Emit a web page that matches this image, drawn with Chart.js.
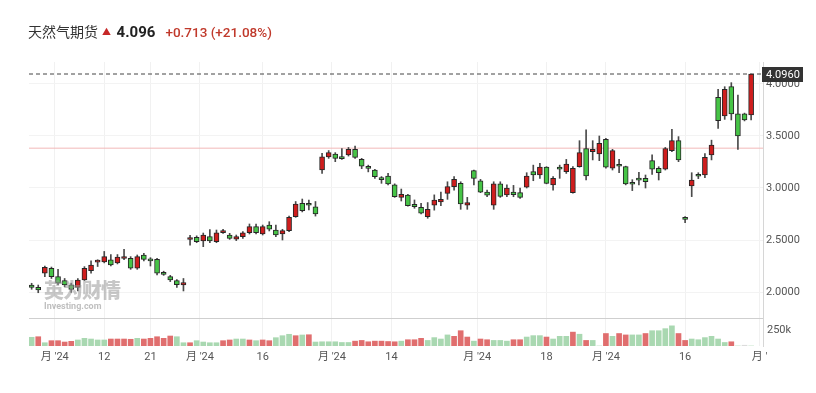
<!DOCTYPE html>
<html>
<head>
<meta charset="utf-8">
<script src="https://cdn.jsdelivr.net/npm/chart.js@4.4.0/dist/chart.umd.min.js"></script>
<style>
html, body { margin: 0; padding: 0; background: #fff; }
#wrap { position: relative; width: 816px; height: 393px; overflow: hidden; }
#head { position: absolute; left: 28px; top: 18px; white-space: nowrap; font-family: 'Noto Sans CJK SC', 'Noto Sans', sans-serif; }
#head .name { font-size: 14px; color: #333; }
#head .arrow { font-size: 9px; color: #c62828; margin-left: 4px; position: relative; top: -2px; }
#head .last { font-family: Roboto, 'Noto Sans', sans-serif; font-size: 15px; font-weight: bold; color: #222; margin-left: 2px; }
#head .chg { font-family: Roboto, 'Noto Sans', sans-serif; font-size: 13.5px; font-weight: 500; color: #c0392b; margin-left: 10px; }
#mark { position: absolute; left: 44px; top: 279px; opacity: 0.55; pointer-events: none; font-family: 'Noto Sans CJK SC', sans-serif; }
#mark .cn { font-size: 20px; font-weight: 900; color: #9a9a9a; letter-spacing: -1px; line-height: 22px; }
#mark .en { font-family: Roboto, sans-serif; font-size: 9px; font-weight: bold; color: #8a8a8a; line-height: 10px; }
canvas { position: absolute; left: 0; top: 0; }
</style>
</head>
<body>
<div id="wrap">
  <canvas id="chart" width="816" height="393"></canvas>
  <div id="head"><span class="name">天然气期货</span><span class="arrow">▲</span> <span class="last">4.096</span><span class="chg">+0.713 (+21.08%)</span></div>
  <div id="mark"><div class="cn">英为财情</div><div class="en">Investing.com</div></div>
</div>
<script>
// daily candles, oldest first
const opens = [2.067,2.045,2.18,2.228,2.148,2.11,2.068,2.045,2.115,2.205,
  2.288,2.29,2.31,2.28,2.322,2.324,2.228,2.356,2.304,2.314,
  2.19,2.148,2.11,2.068,2.505,2.526,2.49,2.532,2.484,2.57,
  2.548,2.507,2.532,2.57,2.628,2.558,2.644,2.596,2.558,2.59,
  2.724,2.853,2.838,2.82,3.173,3.30,3.327,3.287,3.317,3.372,
  3.276,3.192,3.173,3.085,3.115,3.03,2.91,2.933,2.843,2.814,
  2.724,2.836,2.866,2.949,3.013,3.045,2.834,3.167,3.07,2.96,
  2.836,3.04,2.933,2.96,2.955,3.007,3.157,3.125,3.20,3.03,
  3.20,3.157,2.955,3.205,3.38,3.35,3.327,3.468,3.19,3.213,
  3.205,3.04,3.079,3.093,3.263,3.19,3.18,3.359,3.455,2.701,
  3.02,3.117,3.125,3.317,3.872,3.692,3.974,3.712,3.712,3.702];
const highs = [2.084,2.067,2.25,2.24,2.218,2.13,2.085,2.13,2.244,2.30,
  2.31,2.39,2.36,2.36,2.41,2.34,2.356,2.372,2.33,2.324,
  2.20,2.16,2.12,2.13,2.545,2.54,2.567,2.60,2.596,2.603,
  2.564,2.548,2.58,2.654,2.654,2.644,2.676,2.644,2.603,2.73,
  2.87,2.894,2.885,2.87,3.334,3.36,3.34,3.38,3.39,3.404,
  3.285,3.22,3.18,3.11,3.14,3.04,2.99,2.94,2.885,2.853,
  2.86,2.934,2.96,3.06,3.11,3.06,2.91,3.173,3.083,2.98,
  3.06,3.06,3.03,3.025,3.0,3.147,3.22,3.238,3.205,3.11,
  3.22,3.275,3.205,3.455,3.56,3.455,3.50,3.478,3.372,3.275,
  3.21,3.08,3.15,3.125,3.32,3.205,3.39,3.565,3.494,2.725,
  3.147,3.147,3.33,3.46,3.949,3.974,4.013,3.894,3.72,4.096];
const lows = [2.026,1.993,2.148,2.13,2.07,2.05,1.996,2.01,2.11,2.18,
  2.245,2.28,2.25,2.27,2.31,2.218,2.218,2.30,2.25,2.165,
  2.16,2.10,2.045,2.01,2.45,2.474,2.436,2.474,2.474,2.564,
  2.506,2.494,2.516,2.558,2.558,2.548,2.587,2.532,2.50,2.58,
  2.718,2.77,2.79,2.73,3.14,3.285,3.253,3.275,3.307,3.285,
  3.186,3.155,3.093,3.045,3.03,2.91,2.875,2.826,2.805,2.75,
  2.709,2.787,2.83,2.891,2.98,2.795,2.795,3.03,2.955,2.916,
  2.795,2.91,2.916,2.916,2.90,3.0,3.07,3.093,3.04,2.98,
  3.093,3.14,2.95,3.20,3.077,3.27,3.263,3.19,3.173,3.147,
  3.03,2.975,3.03,3.0,3.13,3.077,3.173,3.35,3.253,2.667,
  2.917,3.09,3.10,3.27,3.574,3.66,3.654,3.372,3.645,3.654];
const closes = [2.045,2.019,2.237,2.148,2.085,2.068,2.026,2.115,2.228,2.26,
  2.292,2.34,2.26,2.335,2.326,2.228,2.34,2.314,2.30,2.18,
  2.17,2.115,2.07,2.09,2.509,2.484,2.548,2.49,2.57,2.59,
  2.516,2.532,2.57,2.628,2.57,2.628,2.603,2.548,2.59,2.718,
  2.846,2.782,2.834,2.75,3.30,3.34,3.285,3.283,3.372,3.295,
  3.21,3.188,3.11,3.081,3.04,2.916,2.94,2.83,2.82,2.757,
  2.795,2.885,2.89,3.013,3.083,2.846,2.86,3.093,2.96,2.93,
  3.04,2.92,3.0,2.935,2.91,3.115,3.125,3.20,3.045,3.093,
  3.18,3.23,3.19,3.34,3.115,3.372,3.43,3.20,3.36,3.209,
  3.04,3.036,3.075,3.06,3.18,3.148,3.38,3.455,3.27,2.699,
  3.077,3.113,3.295,3.413,3.648,3.949,3.712,3.50,3.654,4.096];

// volume in thousands, and whether the volume bar is drawn as an up (red) bar
const volumes = [136,145,51,83,83,62,73,94,120,109,
  94,94,109,109,109,105,120,109,120,145,
  120,156,145,51,51,83,62,51,51,83,
  94,109,109,94,83,94,83,130,161,183,
  161,172,176,62,66,66,66,55,55,76,
  87,66,76,76,70,66,76,98,98,120,
  87,131,109,173,151,239,140,76,109,98,
  87,87,76,98,98,140,162,162,140,109,
  151,151,217,184,87,87,0,195,151,195,
  173,173,173,195,239,239,271,315,195,87,
  109,98,131,151,109,55,66,0,12,0];
const volUp = [0,1,0,1,1,1,1,0,0,0,
  0,0,1,1,1,1,0,1,1,1,
  1,1,0,0,1,0,0,0,0,1,
  1,0,0,1,0,1,1,0,0,0,
  1,0,1,0,0,0,0,0,0,1,
  1,1,1,1,1,1,0,1,1,1,
  0,0,0,0,1,1,1,0,1,1,
  0,0,0,1,1,0,0,0,1,0,
  0,0,1,0,1,0,0,1,0,1,
  1,0,0,1,0,0,0,0,1,1,
  0,0,0,0,0,0,1,0,0,0];

const tickIdx = [3.5, 11, 18, 25.5, 35, 45.5, 54.5, 67.5, 78, 87, 99, 110.3];
const tickLabels = ["月 '24", '12', '21', "月 '24", '16', "月 '24", '14', "月 '24", '18', "月 '24", '16', "月 '"];
const priceTicks = [2.0, 2.5, 3.0, 3.5, 4.0];
const volTicks = [250];
const prevClose = 3.383;
const volPaneTop = 437.5; // top of the volume pane, in volume units

const RED = '#cf1d1d', GREEN = '#46c446';
const VRED = '#e06e6e', VGREEN = '#a9d8b1';

Chart.defaults.font.family = "Roboto, 'Noto Sans CJK SC', sans-serif";

const idx = closes.map((c, i) => i);
const lastClose = closes[closes.length - 1];

const paneSplit = {
  id: 'paneSplit',
  beforeDatasetsDraw(chart) {
    const area = chart.chartArea;
    const y = Math.round(chart.scales.yv.getPixelForValue(volPaneTop)) + 0.5;
    const ctx = chart.ctx;
    ctx.save();
    ctx.beginPath();
    ctx.strokeStyle = '#cfcfcf';
    ctx.lineWidth = 1;
    ctx.moveTo(area.left, y);
    ctx.lineTo(area.right, y);
    ctx.stroke();
    ctx.restore();
  },
  afterDraw(chart) {
    const area = chart.chartArea;
    const ctx = chart.ctx;
    ctx.save();
    ctx.font = "11px Roboto, 'Noto Sans', sans-serif";
    ctx.textBaseline = 'middle';
    ctx.textAlign = 'left';

    // volume axis labels (the zero-width axis would clip its own)
    ctx.fillStyle = '#555';
    volTicks.forEach(v => {
      ctx.fillText(v + 'k', area.right + 4, chart.scales.yv.getPixelForValue(v));
    });

    // last price tag on the price axis
    const y = Math.round(chart.scales.y.getPixelForValue(lastClose));
    ctx.fillStyle = '#333';
    ctx.fillRect(area.right - 1, y - 7, 41, 15);
    ctx.fillStyle = '#fff';
    ctx.fillText(lastClose.toFixed(4), area.right + 3, y + 1);
    ctx.restore();
  }
};

new Chart(document.getElementById('chart'), {
  data: {
    datasets: [
      {
        type: 'line', label: 'prev', order: 5,
        data: [{ x: -0.4, y: prevClose }, { x: 110.8, y: prevClose }],
        borderColor: '#f2b8b8', borderWidth: 1, pointRadius: 0
      },
      {
        type: 'line', label: 'last', order: 5,
        data: [{ x: -0.4, y: lastClose }, { x: 110.8, y: lastClose }],
        borderColor: '#444', borderWidth: 1, borderDash: [4, 3], pointRadius: 0
      },
      {
        type: 'bar', label: 'vol', yAxisID: 'yv', order: 4, grouped: false,
        data: idx.map(i => ({ x: i, y: volumes[i] })),
        backgroundColor: idx.map(i => i === 108 ? '#dcdcdc' : (volUp[i] ? VRED : VGREEN)),
        barThickness: 5
      },
      {
        type: 'bar', label: 'wick', yAxisID: 'y', order: 2, grouped: false,
        data: idx.map(i => ({ x: i, y: [lows[i], highs[i]] })),
        backgroundColor: '#4a4a4a',
        barThickness: 1
      },
      {
        type: 'bar', label: 'body', yAxisID: 'y', order: 1, grouped: false,
        data: idx.map(i => ({ x: i, y: [Math.min(opens[i], closes[i]), Math.max(opens[i], closes[i])] })),
        backgroundColor: idx.map(i => closes[i] >= opens[i] ? RED : GREEN),
        borderColor: '#262626',
        borderWidth: 1,
        borderSkipped: false,
        minBarLength: 2,
        barThickness: 5
      }
    ]
  },
  options: {
    responsive: false,
    animation: false,
    layout: { padding: { top: 62, left: 29, right: 0, bottom: 0 } },
    plugins: { legend: { display: false }, tooltip: { enabled: false } },
    scales: {
      x: {
        type: 'linear', min: -0.4, max: 110.8, offset: false,
        afterBuildTicks: s => { s.ticks = tickIdx.map(v => ({ value: v })); },
        afterFit: s => { s.height = 47; },
        ticks: {
          autoSkip: false, maxRotation: 0, padding: 5,
          color: '#555', font: { size: 11 },
          callback: (v, i) => tickLabels[i]
        },
        grid: { color: '#f1f1f1', drawTicks: false, offset: false },
        border: { display: false }
      },
      y: {
        position: 'right', weight: 1,
        min: 1.4808, max: 4.2115,
        afterBuildTicks: s => { s.ticks = priceTicks.map(v => ({ value: v })); },
        afterFit: s => { s.width = 53; },
        ticks: {
          padding: 3, color: '#555', font: { size: 11 },
          callback: v => v.toFixed(4)
        },
        grid: { color: '#f3f3f3', drawTicks: false },
        border: { display: true, color: '#d6d6d6' }
      },
      yv: {
        position: 'right', weight: 0,
        min: 0, max: 4437.5,
        afterFit: s => { s.width = 0; },
        ticks: { display: false },
        grid: { display: false, drawTicks: false },
        border: { display: false }
      }
    }
  },
  plugins: [paneSplit]
});
</script>
</body>
</html>
